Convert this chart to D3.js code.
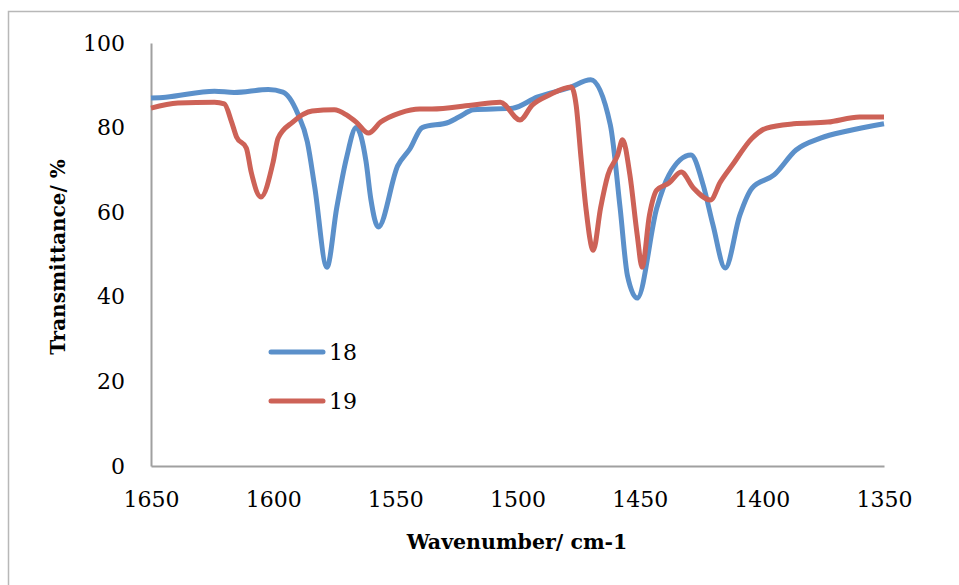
<!DOCTYPE html>
<html>
<head>
<meta charset="utf-8">
<script src="https://cdn.jsdelivr.net/npm/d3@7"></script>
<style>
  html, body { margin: 0; padding: 0; background: #fff; }
  svg { display: block; }
</style>
</head>
<body>
<svg id="chart" width="959" height="585"></svg>
<script>
// FTIR spectra of compounds 18 and 19 (wavenumber in cm-1, transmittance in %)
const wavenumbers18 = [1650, 1644, 1624, 1616, 1602, 1596, 1590, 1586, 1583, 1578, 1574, 1570, 1566, 1562, 1560, 1557, 1549, 1544, 1539, 1528, 1524, 1518, 1502, 1492, 1479, 1470, 1462, 1458, 1455, 1451, 1443, 1438, 1429, 1424, 1420, 1415, 1409, 1404, 1395, 1386, 1376, 1365, 1350];
const transmittance18 = [87.0, 87.2, 88.6, 88.3, 89.0, 88.4, 83.4, 76.6, 66, 47, 61, 72.8, 80, 72, 63, 56.5, 71, 75, 80, 81.3, 82.5, 84.2, 84.6, 87.2, 89.4, 91.3, 80.6, 61, 45, 39.7, 61, 68.8, 73.5, 66.4, 57, 46.8, 59.3, 65.7, 68.8, 74.7, 77.5, 79.2, 80.9];

const wavenumbers19 = [1650, 1639, 1624, 1620, 1617, 1615, 1611, 1609, 1605, 1600, 1598, 1592, 1584, 1575, 1570, 1566, 1561, 1556, 1548, 1540, 1535, 1519, 1507, 1499, 1494, 1487, 1478, 1476, 1474, 1472, 1469, 1466, 1463, 1459, 1457, 1454, 1451, 1449, 1446, 1443, 1438, 1433, 1428, 1421, 1417, 1412, 1404, 1398, 1387, 1373, 1360, 1350];
const transmittance19 = [84.6, 85.8, 86, 85.6, 81.3, 77.8, 75.2, 69.5, 63.6, 71.9, 77.5, 81.3, 83.9, 84.2, 83, 81.3, 78.7, 81.3, 83.5, 84.4, 84.4, 85.3, 86, 81.8, 85.3, 87.7, 89.6, 85.3, 72.8, 61, 51, 61, 68.8, 73.5, 77.1, 68.8, 54.6, 47, 59.3, 65.2, 66.9, 69.5, 65.7, 62.9, 67.1, 71.2, 77.5, 79.9, 80.9, 81.3, 82.5, 82.5];

const seriesNames = ["18", "19"];
const seriesColors = ["#5B90CA", "#CD6257"];
const xTicks = [1650, 1600, 1550, 1500, 1450, 1400, 1350];
const yTicks = [0, 20, 40, 60, 80, 100];

const svg = d3.select("#chart");
const serif = "'DejaVu Serif', 'Liberation Serif', serif";

// outer chart-area border
svg.append("rect")
  .attr("x", 8.5).attr("y", 11.5)
  .attr("width", 1000).attr("height", 1000)
  .attr("fill", "none").attr("stroke", "#b8b8b8").attr("stroke-width", 1.5);

const plotLeft = 151, plotRight = 884, plotTop = 43, plotBottom = 466;
const x = d3.scaleLinear().domain([1650, 1350]).range([plotLeft, plotRight]);
const y = d3.scaleLinear().domain([0, 100]).range([plotBottom, plotTop]);

// axes
const xAxis = svg.append("g")
  .attr("transform", `translate(0,${plotBottom})`)
  .call(d3.axisBottom(x).tickValues(xTicks).tickSize(0).tickPadding(25).tickFormat(d3.format("d")));
const yAxis = svg.append("g")
  .attr("transform", `translate(${plotLeft},0)`)
  .call(d3.axisLeft(y).tickValues(yTicks).tickSize(0).tickPadding(26).tickFormat(d3.format("d")));

[xAxis, yAxis].forEach(g => {
  g.select(".domain").attr("stroke", "#a0a0a0").attr("stroke-width", 2);
  g.selectAll("text").attr("font-family", serif).attr("font-size", 22).attr("fill", "#000");
});
xAxis.selectAll("text").attr("dy", "0.71em");

// axis titles
svg.append("text")
  .attr("x", 517).attr("y", 549)
  .attr("text-anchor", "middle")
  .attr("font-family", serif).attr("font-size", 20.5).attr("font-weight", "bold")
  .text("Wavenumber/ cm-1");

svg.append("text")
  .attr("transform", "translate(65,257) rotate(-90)")
  .attr("text-anchor", "middle")
  .attr("font-family", serif).attr("font-size", 20).attr("font-weight", "bold")
  .text("Transmittance/ %");

// spectra
const line = d3.line()
  .x(d => x(d[0]))
  .y(d => y(d[1]))
  .curve(d3.curveMonotoneX);

const series = [
  d3.zip(wavenumbers18, transmittance18),
  d3.zip(wavenumbers19, transmittance19)
];

series.forEach((pts, i) => {
  svg.append("path")
    .datum(pts)
    .attr("d", line)
    .attr("fill", "none")
    .attr("stroke", seriesColors[i])
    .attr("stroke-width", 5)
    .attr("stroke-linejoin", "round")
    .attr("stroke-linecap", "butt");
});

// legend
seriesNames.forEach((name, i) => {
  const ly = 352 + i * 49;
  svg.append("line")
    .attr("x1", 271).attr("x2", 323)
    .attr("y1", ly).attr("y2", ly)
    .attr("stroke", seriesColors[i]).attr("stroke-width", 5)
    .attr("stroke-linecap", "round");
  svg.append("text")
    .attr("x", 329).attr("y", ly)
    .attr("dy", "0.36em")
    .attr("font-family", serif).attr("font-size", 22)
    .text(name);
});
</script>
</body>
</html>
